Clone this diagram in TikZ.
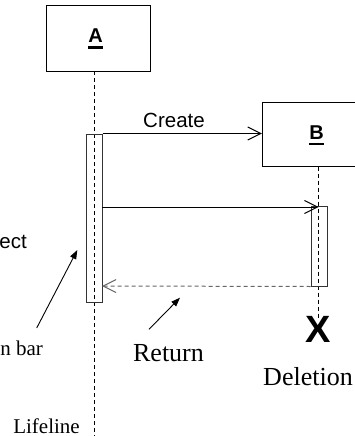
\documentclass[tikz,border=0pt]{standalone}
\usepackage{fontspec}
\setmainfont{Liberation Serif}
\setsansfont{Liberation Sans}
\usetikzlibrary{arrows.meta}
\tikzset{
  objbox/.style={draw=black, line width=1pt, rectangle, inner sep=0pt},
  objname/.style={font=\sffamily\bfseries\fontsize{20}{22}\selectfont, inner sep=0pt},
  lifeline/.style={draw=black, line width=0.9pt, dash pattern=on 4pt off 3pt},
  actbar/.style={draw=black!80, line width=1pt, rectangle, inner sep=0pt, minimum width=16pt},
  msg/.style={draw=black, line width=1pt, -{Straight Barb[length=13pt,width=13pt,line width=1pt]}},
  retmsg/.style={draw=black!60, line width=1pt, dash pattern=on 4pt off 3pt, -{Straight Barb[length=13pt,width=13pt,line width=1pt]}},
  pointer/.style={draw=black, line width=0.9pt, -{Triangle[length=9pt,width=6.5pt]}},
  sanslabel/.style={font=\sffamily\fontsize{20.5}{24}\selectfont, inner sep=0pt},
  seriflabel/.style={font=\rmfamily\fontsize{26}{30}\selectfont, inner sep=0pt},
  smallserif/.style={font=\rmfamily\fontsize{21}{24}\selectfont, inner sep=0pt},
}
% object name with a thick underline
\newcommand{\objlabel}[1]{\setbox0\hbox{#1}\rlap{\copy0}\rule[-6pt]{\wd0}{2.6pt}}
\begin{document}
\begin{tikzpicture}[x=1pt, y=-1pt]
  \useasboundingbox (0,0) rectangle (355,436);
  \clip (0,0) rectangle (355,436);

  % object boxes
  \node[objbox, minimum width=104pt, minimum height=65pt] (A) at (98,38.5) {};
  \node[objbox, minimum width=104pt, minimum height=64pt] (B) at (314.3,134.7) {};
  \node[objname, anchor=base] (Alabel) at (95.5,43) {\objlabel{A}};
  \node[objname, anchor=base] (Blabel) at (316.7,139.3) {\objlabel{B}};

  % lifelines
  \coordinate (Atop) at (94.7,71);
  \coordinate (Abot) at (94.7,436);
  \coordinate (Btop) at (318.5,166.7);
  \coordinate (Bbot) at (318.5,318);
  \draw[lifeline] (Atop) -- (Abot);
  \draw[lifeline] (Btop) -- (Bbot);

  % activation bars
  \node[actbar, minimum height=168pt] (barA) at (94,218) {};
  \node[actbar, minimum height=80pt] (barB) at (319,246) {};

  % messages
  \draw[msg] (barA.north east) -- (barA.north east -| B.west);
  \node[sanslabel, anchor=base] (create) at (174,127) {Create};
  \coordinate (callS) at (102,207);
  \coordinate (callE) at (318.5,207);
  \draw[msg] (callS) -- (callE);
  \coordinate (retE) at (102,286);
  \draw[retmsg] (barB.south west) -- (retE);

  % deletion mark
  \node[font=\sffamily\bfseries\fontsize{38}{40}\selectfont, inner sep=0pt, anchor=base] (X) at (318.5,342) {X};

  % annotations
  \node[sanslabel, anchor=base east] (object) at (27,248) {Object};
  \node[smallserif, anchor=base east] (actlabel) at (43,355) {Activation bar};
  \node[seriflabel, anchor=base] (retlabel) at (168.5,361.5) {Return};
  \node[seriflabel, anchor=base] (dellabel) at (308,385) {Deletion};
  \node[smallserif, anchor=base] (lifelabel) at (46.5,433) {Lifeline};

  \coordinate (actS) at (36.7,328);
  \coordinate (actT) at (77.3,250);
  \draw[pointer] (actS) -- (actT);
  \coordinate (retS) at (149,329.3);
  \coordinate (retT) at (180,297.7);
  \draw[pointer] (retS) -- (retT);
\end{tikzpicture}
\end{document}
